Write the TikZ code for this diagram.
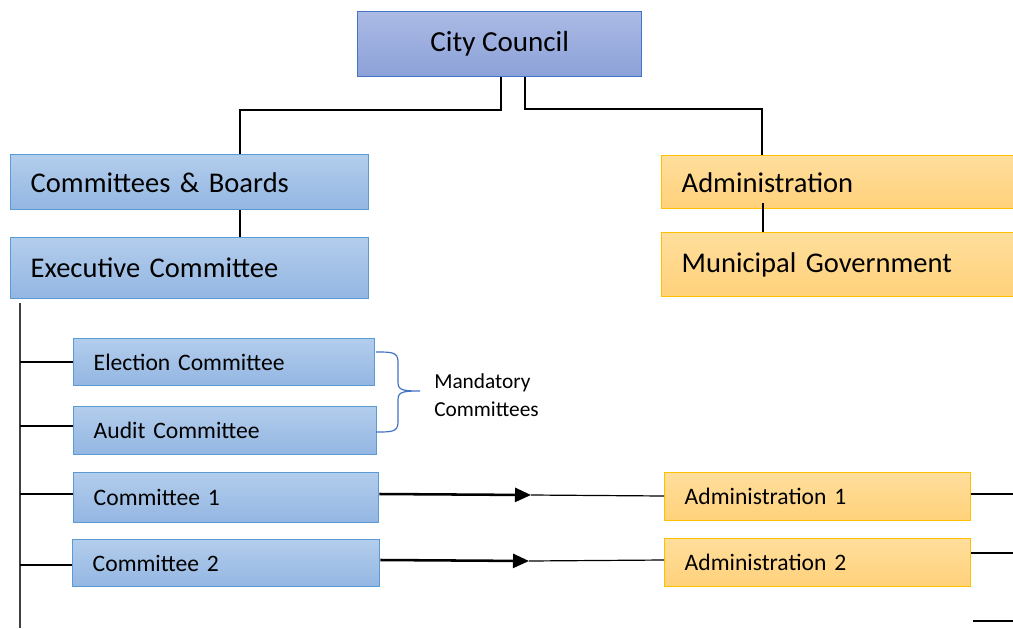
\documentclass[tikz,border=0pt]{standalone}
\usepackage{fontspec}
\setmainfont{Carlito}
\usetikzlibrary{arrows.meta}
\definecolor{ccTop}{HTML}{ABBAE5}
\definecolor{ccBot}{HTML}{8CA1D8}
\definecolor{ccLine}{HTML}{4472C4}
\definecolor{blTop}{HTML}{B3CDEC}
\definecolor{blBot}{HTML}{93B6E2}
\definecolor{blLine}{HTML}{5B9BD5}
\definecolor{orTop}{HTML}{FFDE9C}
\definecolor{orBot}{HTML}{FFD17A}
\definecolor{orLine}{HTML}{FFC000}
\tikzset{
  box/.style={draw, line width=1.1pt, anchor=north west, inner ysep=0pt, align=left, inner xsep=15pt},
  bluebox/.style={box, draw=blLine, top color=blTop, bottom color=blBot},
  orangebox/.style={box, draw=orLine, top color=orTop, bottom color=orBot},
  big/.style={font=\fontsize{21.4}{24}\selectfont},
  mid/.style={font=\fontsize{17.7}{20}\selectfont},
  bx/.style 2 args={minimum width={#1*0.75pt}, text width={(#1-40)*0.75pt}, minimum height={#2*0.75pt}},
  conn/.style={line width=0.9pt, black},
  thickarrow/.style={line width=1.9pt, -{Triangle[length=12pt,width=10.5pt]}}
}
\begin{document}
\begin{tikzpicture}[x=0.75pt,y=-0.75pt]
\clip (0,0) rectangle (1013,628);
\fill[white] (0,0) rectangle (1013,628);

% top level
\node[draw=ccLine, line width=1.1pt, top color=ccTop, bottom color=ccBot, anchor=north west,
      minimum width={284*0.75pt}, minimum height={65*0.75pt}, inner sep=0pt,
      font=\fontsize{21.8}{24}\selectfont] (cc) at (357,11) {City Council};

% left branch
\node[bluebox, big, bx={358}{55}] (cb) at (10,154) {Committees \& Boards};
\node[bluebox, big, bx={358}{61}] (ec) at (10,237) {Executive Committee};

% right branch
\node[orangebox, big, bx={400}{53}] (adm) at (661,155) {Administration};
\node[orangebox, big, bx={400}{64}] (mg) at (661,232) {Municipal Government};

% committees
\node[bluebox, mid, bx={301}{47}] (el) at (73,338) {Election Committee};
\node[bluebox, mid, bx={303}{48}] (au) at (73,406) {Audit Committee};
\node[bluebox, mid, bx={305}{50}] (c1) at (73,472) {Committee 1};
\node[bluebox, mid, bx={307}{47}] (c2) at (72,539) {Committee 2};

% administrations
\node[orangebox, mid, bx={306}{48}] (a1) at (664,472) {Administration 1};
\node[orangebox, mid, bx={306}{48}] (a2) at (664,538) {Administration 2};

% brace label
\node[anchor=west, align=left, font=\fontsize{16}{20.5}\selectfont, inner sep=0pt] (mand) at (434,395)
  {Mandatory\\Committees};

% council connectors
\draw[conn] (cc.south -| 501,0) -- (501,110) -- (240,110) -- (cb.north -| 240,0);
\draw[conn] (cc.south -| 525,0) -- (525,109) -- (762,109) -- (adm.north -| 762,0);
\draw[conn] (cb.south -| 240,0) -- (ec.north -| 240,0);
\draw[conn] (763,203) -- (mg.north -| 763,0);

% spine and branches
\coordinate (sTop) at (20,303);
\coordinate (sBot) at (20,628);
\draw[conn, line width=1.2pt, black!75] (sTop) -- (sBot);
\draw[conn] (20,362) -- (el.west |- 0,362);
\draw[conn] (20,426) -- (au.west |- 0,426);
\draw[conn] (20,494) -- (c1.west |- 0,494);
\draw[conn] (20,565) -- (c2.west |- 0,565);

% brace
\draw[ccLine, line width=0.9pt] (376,352) .. controls (392,352) and (398,352) .. (398,362)
  -- (398,382) .. controls (398,390) and (402,391) .. (420,391)
  (420,391) .. controls (402,391) and (398,392) .. (398,400)
  -- (398,422) .. controls (398,432) and (392,432) .. (376,432);

% committee to administration arrows
\coordinate (t1) at (531,495);
\coordinate (t2) at (529,561);
\draw[thickarrow] (c1.east |- 0,494) -- (t1);
\draw[conn] (t1) -- (a1.west |- 0,496);
\draw[thickarrow] (c2.east |- 0,560) -- (t2);
\draw[conn] (t2) -- (a2.west |- 0,560);

% stubs on the right
\coordinate (r1) at (1013,494);
\coordinate (r2) at (1013,553);
\coordinate (r3a) at (973,621);
\coordinate (r3b) at (1013,621);
\draw[conn] (a1.east |- 0,494) -- (r1);
\draw[conn] (a2.east |- 0,553) -- (r2);
\draw[conn] (r3a) -- (r3b);
\end{tikzpicture}
\end{document}
